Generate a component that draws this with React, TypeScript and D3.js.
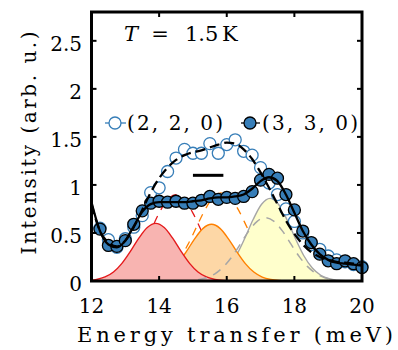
import React from "react";
import * as d3 from "d3";

// measured points, (2,2,0) open and (3,3,0) filled
const energies = [
  12.25, 12.5, 12.75, 13, 13.25, 13.5, 13.75, 14, 14.25, 14.5, 14.75, 15, 15.25, 15.5, 15.75, 16,
  16.25, 16.5, 16.75, 17, 17.25, 17.5, 17.75, 18, 18.25, 18.5, 18.75, 19, 19.25, 19.5, 19.75, 20,
];
const int220 = [
  0.55, 0.43, 0.35, 0.44, 0.56, 0.68, 0.92, 0.97, 1.14, 1.28, 1.37, 1.33, 1.33, 1.43, 1.33, 1.42,
  1.47, 1.35, 1.31, 1.18, 1.02, 0.9, 0.75, 0.62, 0.5, 0.38, 0.33, 0.26, 0.22, 0.2, 0.17, 0.15,
];
const int330 = [
  0.54, 0.37, 0.36, 0.42, 0.59, 0.73, 0.81, 0.83, 0.82, 0.83, 0.81, 0.81, 0.84, 0.88, 0.85, 0.87,
  0.86, 0.88, 0.93, 1.05, 1.11, 1.07, 0.9, 0.74, 0.52, 0.4, 0.28, 0.21, 0.18, 0.21, 0.18, 0.14,
];

// fitted curves
const fitEnergies = [
  12, 12.25, 12.5, 12.75, 13, 13.25, 13.5, 13.75, 14, 14.25, 14.5, 14.75, 15, 15.25, 15.5, 15.75, 16,
  16.25, 16.5, 16.75, 17, 17.25, 17.5, 17.75, 18, 18.25, 18.5, 18.75, 19, 19.25, 19.5, 19.75, 20,
];
const fit330 = [
  0.82, 0.52, 0.38, 0.35, 0.42, 0.57, 0.72, 0.8, 0.82, 0.82, 0.82, 0.82, 0.83, 0.84, 0.86, 0.87, 0.87,
  0.88, 0.9, 0.96, 1.04, 1.08, 1.04, 0.9, 0.71, 0.52, 0.38, 0.28, 0.22, 0.19, 0.18, 0.17, 0.16,
];
const fit220 = [
  0.8, 0.52, 0.4, 0.36, 0.42, 0.56, 0.74, 0.92, 1.07, 1.18, 1.26, 1.31, 1.34, 1.36, 1.39, 1.42, 1.44,
  1.43, 1.37, 1.27, 1.13, 0.97, 0.8, 0.63, 0.49, 0.38, 0.3, 0.25, 0.22, 0.2, 0.19, 0.18, 0.17,
];

// peak components of the (3,3,0) fit (filled)
const redE = [11.9, 12.15, 12.4, 12.65, 12.9, 13.15, 13.4, 13.65, 13.9, 14.15, 14.4, 14.65, 14.9, 15.15, 15.4, 15.65, 15.9, 16.15, 16.4];
const redV = [0.005, 0.016, 0.042, 0.094, 0.184, 0.308, 0.446, 0.557, 0.6, 0.557, 0.446, 0.308, 0.184, 0.094, 0.042, 0.016, 0.005, 0.002, 0];
const orangeE = [13.55, 13.8, 14.05, 14.3, 14.55, 14.8, 15.05, 15.3, 15.55, 15.8, 16.05, 16.3, 16.55, 16.8, 17.05, 17.3, 17.55, 17.8, 18.05];
const orangeV = [0.005, 0.016, 0.041, 0.093, 0.181, 0.303, 0.439, 0.548, 0.59, 0.548, 0.439, 0.303, 0.181, 0.093, 0.041, 0.016, 0.005, 0.002, 0];
const yellowE = [15.28, 15.53, 15.78, 16.03, 16.28, 16.53, 16.78, 17.03, 17.28, 17.53, 17.78, 18.03, 18.28, 18.53, 18.78, 19.03, 19.28, 19.53, 19.78];
const yellowV = [0.008, 0.023, 0.06, 0.135, 0.263, 0.442, 0.64, 0.799, 0.86, 0.799, 0.64, 0.442, 0.263, 0.135, 0.06, 0.023, 0.008, 0.002, 0];

// peak components of the (2,2,0) fit (dashed)
const redDashE = [12.5, 12.75, 13, 13.25, 13.5, 13.75, 14, 14.25, 14.5, 14.75, 15, 15.25, 15.5, 15.75, 16, 16.25, 16.5];
const redDashV = [0.019, 0.047, 0.103, 0.2, 0.343, 0.523, 0.707, 0.847, 0.9, 0.847, 0.707, 0.523, 0.343, 0.2, 0.103, 0.047, 0.019];
const orangeDashE = [13.85, 14.1, 14.35, 14.6, 14.85, 15.1, 15.35, 15.6, 15.85, 16.1, 16.35, 16.6, 16.85, 17.1, 17.35, 17.6, 17.85];
const orangeDashV = [0.027, 0.061, 0.124, 0.229, 0.378, 0.558, 0.737, 0.87, 0.92, 0.87, 0.737, 0.558, 0.378, 0.229, 0.124, 0.061, 0.027];
const grayDashE = [15.15, 15.4, 15.65, 15.9, 16.15, 16.4, 16.65, 16.9, 17.15, 17.4, 17.65, 17.9, 18.15, 18.4, 18.65, 18.9, 19.15];
const grayDashV = [0.014, 0.034, 0.075, 0.147, 0.251, 0.383, 0.519, 0.621, 0.66, 0.621, 0.519, 0.383, 0.251, 0.147, 0.075, 0.034, 0.014];

// energy resolution bar
const resolution = [15.0, 15.9];
const resolutionLevel = 1.1;

const xTicks = [12, 14, 16, 18, 20];
const yTicks = [0, 0.5, 1, 1.5, 2, 2.5];

const blue = "#377eb8";
const font = "DejaVu Serif";

const zip = (a: number[], b: number[]) => a.map((e, i) => [e, b[i]] as [number, number]);

export default function App() {
  const left = 91.5, right = 362, top = 12, bottom = 281;
  const x = d3.scaleLinear().domain([12, 20]).range([left, right]);
  const y = d3.scaleLinear().domain([0, 2.8]).range([bottom, top]);

  const line = d3
    .line<[number, number]>()
    .x((d) => x(d[0]))
    .y((d) => y(d[1]))
    .curve(d3.curveMonotoneX);
  const area = d3
    .area<[number, number]>()
    .x((d) => x(d[0]))
    .y0(y(0))
    .y1((d) => y(d[1]))
    .curve(d3.curveMonotoneX);

  const peaks = [
    { e: yellowE, v: yellowV, fill: "#ffffcc", stroke: "#a6a6a6" },
    { e: orangeE, v: orangeV, fill: "#fdd7a6", stroke: "#ff8000" },
    { e: redE, v: redV, fill: "#f8b4b1", stroke: "#e41a1c" },
  ];

  const tickLen = 5;
  const r = 6;

  return (
    <svg width={398} height={350} style={{ position: "absolute", left: 0, top: 0, background: "#fff" }}>
      <defs>
        <clipPath id="plot">
          <rect x={left} y={top} width={right - left} height={bottom - top} />
        </clipPath>
      </defs>

      <g clipPath="url(#plot)">
        {/* dashed components hidden under the fills */}
        <path d={line(zip(redDashE, redDashV)) ?? ""} fill="none" stroke="#e41a1c" strokeWidth={1.3} strokeDasharray="8,7" />
        <path d={line(zip(orangeDashE, orangeDashV)) ?? ""} fill="none" stroke="#ff8000" strokeWidth={1.3} strokeDasharray="8,7" />
        {peaks.map((p, i) => (
          <g key={i}>
            <path d={area(zip(p.e, p.v)) ?? ""} fill={p.fill} />
            <path d={line(zip(p.e, p.v)) ?? ""} fill="none" stroke={p.stroke} strokeWidth={1.4} />
          </g>
        ))}
        <path d={line(zip(grayDashE, grayDashV)) ?? ""} fill="none" stroke="#a6a6a6" strokeWidth={1.5} strokeDasharray="9,7" />
      </g>

      {/* (2,2,0) open markers */}
      {energies.map((e, i) => (
        <circle key={"o" + i} cx={x(e)} cy={y(int220[i])} r={r} fill="#fff" stroke={blue} strokeWidth={1.3} />
      ))}
      {/* (3,3,0) filled markers */}
      {energies.map((e, i) => (
        <circle key={"f" + i} cx={x(e)} cy={y(int330[i])} r={r} fill={blue} stroke="#000" strokeWidth={1.3} />
      ))}

      <g clipPath="url(#plot)">
        <path d={line(zip(fitEnergies, fit220)) ?? ""} fill="none" stroke="#000" strokeWidth={2.3} strokeDasharray="10,5" />
        <path d={line(zip(fitEnergies, fit330)) ?? ""} fill="none" stroke="#000" strokeWidth={2.3} />
      </g>

      <line x1={x(resolution[0])} x2={x(resolution[1])} y1={y(resolutionLevel)} y2={y(resolutionLevel)} stroke="#000" strokeWidth={3} />

      {/* frame and ticks */}
      <rect x={left} y={top} width={right - left} height={bottom - top} fill="none" stroke="#000" strokeWidth={3} />
      {xTicks.slice(1, -1).map((t) => (
        <g key={"xt" + t} stroke="#000" strokeWidth={2}>
          <line x1={x(t)} x2={x(t)} y1={bottom} y2={bottom - tickLen} />
          <line x1={x(t)} x2={x(t)} y1={top} y2={top + tickLen} />
        </g>
      ))}
      {yTicks.slice(1).map((t) => (
        <g key={"yt" + t} stroke="#000" strokeWidth={2}>
          <line x1={left} x2={left + tickLen} y1={y(t)} y2={y(t)} />
          <line x1={right} x2={right - tickLen} y1={y(t)} y2={y(t)} />
        </g>
      ))}

      <g fontFamily={font} fontSize={20} fill="#000">
        {xTicks.map((t) => (
          <text key={"xl" + t} x={x(t)} y={313} textAnchor="middle">
            {t}
          </text>
        ))}
        {yTicks.map((t) => (
          <text key={"yl" + t} x={82} y={y(t) + 10} textAnchor="end">
            {t}
          </text>
        ))}
        <text x={77} y={342} textLength={316} lengthAdjust="spacing" fontSize={21}>
          Energy transfer (meV)
        </text>
        <text
          transform="translate(36,143) rotate(-90)"
          textAnchor="middle"
          textLength={223}
          lengthAdjust="spacing"
          fontSize={20}
        >
          Intensity (arb. u.)
        </text>

        {/* T = 1.5 K */}
        <text x={124} y={41} fontStyle="italic" fontSize={21}>T</text>
        <text x={160} y={41} textAnchor="middle" fontSize={21}>=</text>
        <text x={185} y={41} fontSize={21}>1.5</text>
        <text x={222} y={41} fontSize={21}>K</text>

        {/* legend */}
        <line x1={105} x2={126} y1={123} y2={123} stroke={blue} strokeWidth={1.3} />
        <circle cx={115} cy={123} r={r} fill="#fff" stroke={blue} strokeWidth={1.3} />
        <text x={127} y={130} textLength={96} lengthAdjust="spacing" fontSize={20}>
          (2, 2, 0)
        </text>
        <line x1={241} x2={260} y1={123} y2={123} stroke="#000" strokeWidth={1.3} />
        <circle cx={250} cy={123} r={r} fill={blue} stroke="#000" strokeWidth={1.3} />
        <text x={262} y={130} textLength={96} lengthAdjust="spacing" fontSize={20}>
          (3, 3, 0)
        </text>
      </g>
    </svg>
  );
}
